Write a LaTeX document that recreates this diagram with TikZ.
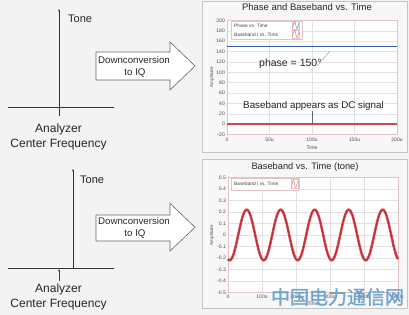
\documentclass[tikz,border=0pt]{standalone}
\usepackage{fontspec}
\setmainfont{Liberation Sans}
\newfontfamily\cjk[FakeBold=1.5]{Noto Sans CJK SC}
\usetikzlibrary{arrows.meta}
\definecolor{bgc}{HTML}{F3F3F3}
\definecolor{panelc}{HTML}{F7F7F7}
\definecolor{panelborder}{HTML}{C4C4C4}
\definecolor{gridc}{HTML}{E2E2E2}
\definecolor{framec}{HTML}{E3C3C3}
\definecolor{blueline}{HTML}{3558A8}
\definecolor{redline}{HTML}{D24848}
\definecolor{sinec}{HTML}{DA4A52}
\definecolor{sinedark}{HTML}{B02632}
\definecolor{wmark}{HTML}{5E9CC8}
\tikzset{
  axisln/.style={draw=black!80, line width=0.8pt},
  lbl/.style={inner sep=0pt, text=black!85},
  bigarrow/.style={draw=black!60, fill=white, line width=0.6pt},
  panel/.style={draw=panelborder, fill=panelc, line width=0.6pt},
  gridln/.style={draw=gridc, line width=0.4pt},
  framebox/.style={draw=framec, line width=0.5pt},
  ticklbl/.style={inner sep=0pt, font=\fontsize{5}{5}\selectfont, text=black!70},
  leglbl/.style={inner sep=0pt, font=\fontsize{4.8}{5}\selectfont, text=black!75},
  legbox/.style={draw=framec, fill=white, line width=0.4pt},
  title/.style={inner sep=0pt, text=black!85},
}
\begin{document}
\begin{tikzpicture}[x=1pt,y=-1pt]
\useasboundingbox (0,0) rectangle (409,315);
\fill[bgc] (0,0) rectangle (409,315);

% ---------------- top left spectrum
\coordinate (v1b) at (59,116);
\coordinate (v1t) at (59,9);
\coordinate (h1l) at (8,107);
\coordinate (h1r) at (114,107);
\draw[axisln] (h1l) -- (h1r);
\draw[axisln, -{Stealth[length=2.6pt,width=2.2pt]}] (v1b) -- (v1t);
\node[lbl, anchor=base west, font=\fontsize{11}{12}\selectfont] (tone1) at (68,22.3) {Tone};
\node[lbl, anchor=base, font=\fontsize{12}{13}\selectfont] (an1) at (58.5,132.3) {Analyzer};
\node[lbl, anchor=base, font=\fontsize{12}{13}\selectfont] (cf1) at (58.5,147.7) {Center Frequency};

% big arrow top
\draw[bigarrow] (96,52) -- (170,52) -- (170,42) -- (195,66) -- (170,90) -- (170,80) -- (96,80) -- cycle;
\node[lbl, anchor=base, font=\fontsize{9.7}{10}\selectfont] (dc1) at (134,64) {Downconversion};
\node[lbl, anchor=base, font=\fontsize{9.7}{10}\selectfont] (iq1) at (135,76) {to IQ};

% ---------------- bottom left spectrum
\coordinate (v2b) at (73,268);
\coordinate (v2t) at (73,169);
\coordinate (h2l) at (8,268);
\coordinate (h2r) at (114,268);
\coordinate (m2b) at (59,281);
\coordinate (m2t) at (59,269);
\draw[axisln] (h2l) -- (h2r);
\draw[axisln, -{Stealth[length=2.6pt,width=2.2pt]}] (v2b) -- (v2t);
\draw[draw=black!75, line width=0.6pt, -{Stealth[length=2.5pt,width=2.2pt]}] (m2b) -- (m2t);
\node[lbl, anchor=base west, font=\fontsize{11}{12}\selectfont] (tone2) at (80,183.3) {Tone};
\node[lbl, anchor=base, font=\fontsize{12}{13}\selectfont] (an2) at (58.5,292.7) {Analyzer};
\node[lbl, anchor=base, font=\fontsize{12}{13}\selectfont] (cf2) at (58.5,307.7) {Center Frequency};

% big arrow bottom
\draw[bigarrow] (96,215) -- (170,215) -- (170,203.3) -- (195,227.3) -- (170,251) -- (170,241) -- (96,241) -- cycle;
\node[lbl, anchor=base, font=\fontsize{9.7}{10}\selectfont] (dc2) at (134,224.7) {Downconversion};
\node[lbl, anchor=base, font=\fontsize{9.7}{10}\selectfont] (iq2) at (135,236) {to IQ};

% ================= top panel
\draw[panel] (202,1) rectangle (407,152);
\node[title, anchor=base, font=\fontsize{9.5}{10}\selectfont] (ttl1) at (307,10.7) {Phase and Baseband vs. Time};
\fill[white] (227,20.5) rectangle (397,134.5);
\foreach \v in {-20,0,20,...,200} {
  \draw[gridln] (227,{124.1-0.518*\v}) -- (397,{124.1-0.518*\v});
  \node[ticklbl, anchor=east] (ya\v) at (225,{124.1-0.518*\v}) {\v};
}
\foreach \t/\s in {0/0,50/50u,100/100u,150/150u,200/200u} {
  \draw[gridln] ({227+0.85*\t},20.5) -- ({227+0.85*\t},134.5);
  \node[ticklbl, anchor=north] (xa\t) at ({227+0.85*\t},137.5) {\s};
}
\draw[framebox] (227,20.5) rectangle (397,134.5);
\node[ticklbl, anchor=north] (tm1) at (312,145.5) {Time};
\node[ticklbl, rotate=90, font=\fontsize{4.5}{5}\selectfont] (amp1) at (212,77) {Amplitude};
% legend
\draw[legbox] (231,21) rectangle (302,39);
\node[leglbl, anchor=west] (lg1a) at (234,25.5) {Phase vs. Time};
\node[leglbl, anchor=west] (lg1b) at (234,34.5) {Baseband I vs. Time};
\draw[draw=framec, fill=white, line width=0.3pt] (292,21.5) rectangle (299.5,29.5);
\draw[draw=blueline!70, line width=0.5pt] (292.5,28) .. controls (294,20) and (295,20) .. (295.8,25) .. controls (296.6,30) and (297.6,30) .. (299,22.5);
\draw[draw=framec, fill=white, line width=0.3pt] (292,30.5) rectangle (299.5,38.5);
\draw[draw=redline!70, line width=0.5pt] (292.5,37) .. controls (294,29) and (295,29) .. (295.8,34) .. controls (296.6,39) and (297.6,39) .. (299,31.5);
% data
\draw[blueline, line width=1.6pt] (227,46.4) -- (397,46.4);
\draw[redline, line width=1.4pt] (227,124.1) -- (397,124.1);
% annotations
\node[lbl, anchor=base west, font=\fontsize{10.5}{11}\selectfont] (ph) at (259,66.7) {phase = 150°};
\coordinate (phl) at (317,66);
\coordinate (phr) at (330,51);
\draw[black!45, line width=0.4pt] (phl) -- (phr);
\node[lbl, anchor=base, font=\fontsize{9.8}{10}\selectfont] (dcs) at (313.5,108.7) {Baseband appears as DC signal};
\coordinate (dct) at (312,111);
\coordinate (dcb) at (312,124);
\draw[black!60, line width=0.4pt] (dct) -- (dcb);

% ================= bottom panel
\draw[panel] (202,159) rectangle (407,308);
\node[title, anchor=base, font=\fontsize{9.3}{10}\selectfont] (ttl2) at (305,169) {Baseband vs. Time (tone)};
\fill[white] (228,177.5) rectangle (398,292.5);
\foreach \v/\s [count=\i] in {0.5/0.5,0.4/0.4,0.3/0.3,0.2/0.2,0.1/0.1,0/0,-0.1/-0.1,-0.2/-0.2,-0.3/-0.3,-0.4/-0.4,-0.5/-0.5} {
  \draw[gridln] (228,{235-115*\v}) -- (398,{235-115*\v});
  \node[ticklbl, anchor=east] (yb\i) at (226,{235-115*\v}) {\s};
}
\foreach \t/\s in {0/0,100/100u,200/200u,300/300u,400/400u,500/500u} {
  \draw[gridln] ({228+0.34*\t},177.5) -- ({228+0.34*\t},292.5);
  \node[ticklbl, anchor=north] (xb\t) at ({228+0.34*\t},295) {\s};
}
\draw[framebox] (228,177.5) rectangle (398,292.5);
\node[ticklbl, anchor=north] (tm2) at (313,301.5) {Time};
\node[ticklbl, rotate=90, font=\fontsize{4.5}{5}\selectfont] (amp2) at (212,235) {Amplitude};
% legend
\draw[legbox] (231,178) rectangle (299,190);
\node[leglbl, anchor=west] (lg2a) at (234,184) {Baseband I vs. Time};
\draw[draw=framec, fill=white, line width=0.3pt] (291,179.5) rectangle (298,188.5);
\draw[draw=redline!70, line width=0.5pt] (291.5,187) .. controls (293,179) and (293.8,179) .. (294.5,184) .. controls (295.3,189) and (296.2,189) .. (297.5,181);
% sine
\draw[sinec, line width=2.5pt] plot[domain=0:500, samples=301, smooth] ({228+0.34*\x},{235+25.3*cos(3.6*(\x-5))});
\draw[sinedark, line width=0.7pt] plot[domain=0:500, samples=301, smooth] ({228+0.34*\x},{235+25.3*cos(3.6*(\x-5))});

% watermark
\node[inner sep=0pt, text=wmark, opacity=0.85, font=\cjk\fontsize{19}{19}\selectfont] (wm) at (337.5,297) {中国电力通信网};
\end{tikzpicture}
\end{document}
